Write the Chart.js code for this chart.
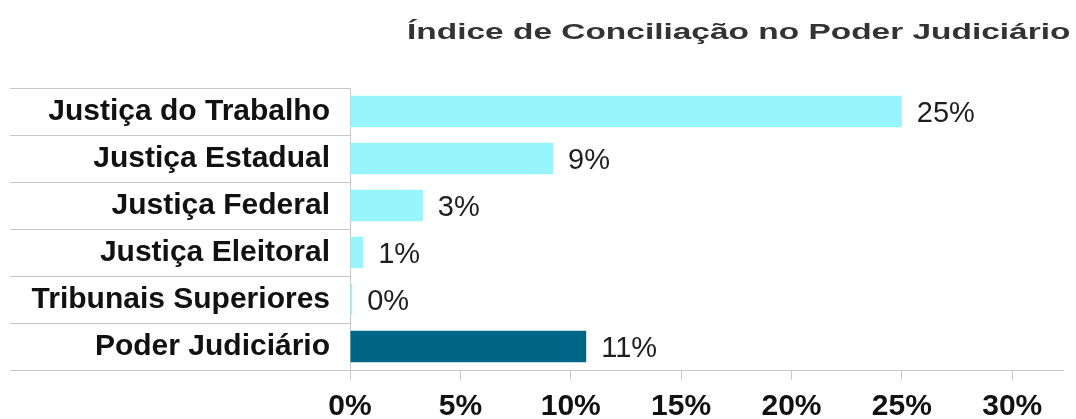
<!DOCTYPE html>
<html lang="pt">
<head>
    <meta charset="UTF-8">
    <title>Índice de Conciliação no Poder Judiciário</title>
    <script src="https://cdn.jsdelivr.net/npm/chart.js"></script>
    <style>
        body {
            margin: 0;
            background-color: white;
            font-family: 'Liberation Sans', Arial, sans-serif;
        }
        .wrap {
            position: relative;
            width: 1076px;
            height: 419px;
        }
        .chart-title {
            position: absolute;
            top: 21px;
            right: 6px;
            margin: 0;
            font-size: 22px;
            line-height: 22px;
            font-weight: bold;
            color: #333;
            white-space: nowrap;
            transform: scaleX(1.52);
            transform-origin: right center;
        }
    </style>
</head>
<body>
    <div class="wrap">
        <div class="chart-title">Índice de Conciliação no Poder Judiciário</div>
        <canvas id="barChart"></canvas>
    </div>

    <script>
        const categories = [
            'Justiça do Trabalho',
            'Justiça Estadual',
            'Justiça Federal',
            'Justiça Eleitoral',
            'Tribunais Superiores',
            'Poder Judiciário'
        ];
        // indice de conciliacao, em %
        const values = [25.0, 9.2, 3.3, 0.6, 0.1, 10.7];
        const xTicks = [0, 5, 10, 15, 20, 25, 30];

        const FONT = "'Liberation Sans', Arial, sans-serif";
        const lineColor = '#c8c8c8';

        // rotulo de valor ao lado de cada barra
        const valueLabels = {
            id: 'valueLabels',
            afterDatasetsDraw(chart) {
                const ctx = chart.ctx;
                const meta = chart.getDatasetMeta(0);
                ctx.save();
                ctx.font = '29px ' + FONT;
                ctx.fillStyle = '#1e1e1e';
                ctx.textAlign = 'left';
                ctx.textBaseline = 'middle';
                meta.data.forEach((bar, i) => {
                    ctx.fillText(Math.round(values[i]) + '%', bar.x + 15, bar.y + 2);
                });
                ctx.restore();
            }
        };

        const ctx = document.getElementById('barChart').getContext('2d');
        new Chart(ctx, {
            type: 'bar',
            data: {
                labels: categories,
                datasets: [{
                    data: values,
                    backgroundColor: categories.map((c, i) => i === categories.length - 1 ? '#006688' : '#98f4fd'),
                    borderWidth: 0,
                    categoryPercentage: 1,
                    barPercentage: 0.67
                }]
            },
            options: {
                indexAxis: 'y',
                responsive: true,
                maintainAspectRatio: false,
                animation: false,
                layout: {
                    padding: { top: 88, left: 10, right: 13, bottom: 0 }
                },
                plugins: {
                    legend: { display: false },
                    tooltip: { enabled: false }
                },
                scales: {
                    x: {
                        min: 0,
                        max: 32.3,
                        afterFit(scale) { scale.height = 49; },
                        afterBuildTicks(scale) {
                            scale.ticks = xTicks.map(v => ({ value: v }));
                        },
                        border: { display: true, color: lineColor },
                        grid: {
                            drawOnChartArea: false,
                            drawTicks: true,
                            tickLength: 10,
                            color: lineColor
                        },
                        ticks: {
                            padding: 9,
                            color: '#111',
                            font: { family: FONT, size: 30, weight: 'bold' },
                            callback: v => v + '%'
                        }
                    },
                    y: {
                        afterFit(scale) { scale.width = 340; },
                        border: { display: true, color: lineColor },
                        grid: {
                            offset: true,
                            drawOnChartArea: false,
                            drawTicks: true,
                            tickLength: 340,
                            color: lineColor
                        },
                        ticks: {
                            padding: -320,
                            color: '#111',
                            font: { family: FONT, size: 30, weight: 'bold' }
                        }
                    }
                }
            },
            plugins: [valueLabels]
        });
    </script>
</body>
</html>
